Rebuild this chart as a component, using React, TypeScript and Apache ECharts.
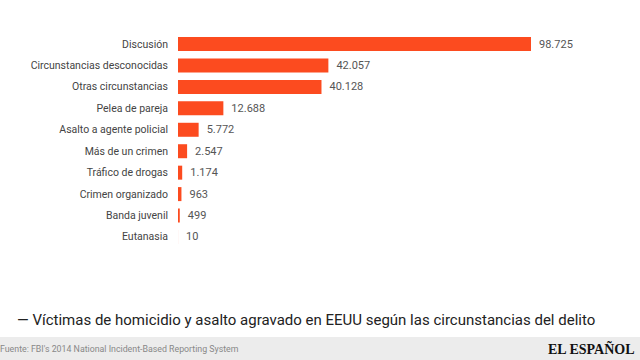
import React, { useEffect, useRef } from "react";
import * as echarts from "echarts";

const categories = [
  "Discusión",
  "Circunstancias desconocidas",
  "Otras circunstancias",
  "Pelea de pareja",
  "Asalto a agente policial",
  "Más de un crimen",
  "Tráfico de drogas",
  "Crimen organizado",
  "Banda juvenil",
  "Eutanasia",
];
const values = [98725, 42057, 40128, 12688, 5772, 2547, 1174, 963, 499, 10];
const title = "— Víctimas de homicidio y asalto agravado en EEUU según las circunstancias del delito";
const source = "Fuente: FBI's 2014 National Incident-Based Reporting System";
const brand = "EL ESPAÑOL";

const fmt = (v: number) => v.toString().replace(/\B(?=(\d{3})+(?!\d))/g, ".");

export default function App() {
  const ref = useRef<HTMLDivElement>(null);
  useEffect(() => {
    if (!ref.current) return;
    const chart = echarts.init(ref.current, undefined, { renderer: "svg" });
    chart.setOption({
      animation: false,
      backgroundColor: "#ffffff",
      grid: { left: 178, right: 109, top: 33.3, bottom: 112.3 },
      xAxis: { type: "value", min: 0, max: 98725, show: false },
      yAxis: {
        type: "category",
        data: categories,
        inverse: true,
        axisLine: { show: false },
        axisTick: { show: false },
        axisLabel: { color: "#444", fontSize: 10.5, fontFamily: "Roboto", margin: 10 },
      },
      series: [
        {
          type: "bar",
          data: values,
          barWidth: 14,
          itemStyle: { color: "#fc4b1f" },
          label: {
            show: true,
            position: "right",
            distance: 8,
            color: "#555",
            fontSize: 11,
            fontFamily: "Roboto",
            formatter: (p: any) => fmt(p.value),
          },
        },
      ],
      graphic: [
        {
          type: "text",
          left: 17,
          top: 312,
          style: { text: title, fontSize: 15, fontFamily: "Roboto", fill: "#222" },
        },
        {
          type: "rect",
          shape: { x: 0, y: 337, width: 640, height: 23 },
          style: { fill: "#ececec" },
        },
        {
          type: "text",
          x: 0,
          y: 349,
          style: { text: source, fontSize: 8.8, fontFamily: "Roboto", fill: "#888", verticalAlign: "middle" },
        },
        {
          type: "text",
          x: 548,
          y: 349,
          style: { text: brand, fontSize: 14, fontWeight: "bold", fontFamily: "Liberation Serif", fill: "#111", verticalAlign: "middle" },
        },
      ],
    });
    return () => chart.dispose();
  }, []);
  return <div ref={ref} style={{ width: 640, height: 360, position: "fixed", left: 0, top: 0 }} />;
}
